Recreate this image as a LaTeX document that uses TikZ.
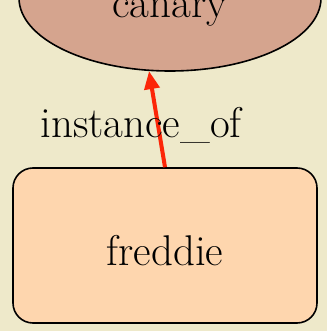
\documentclass[tikz,border=0pt]{standalone}
\usepackage{tikz}
\usetikzlibrary{arrows.meta, positioning, shapes.geometric}
\definecolor{Parch}{RGB}{238,233,202}
\definecolor{Rose}{RGB}{213,164,142}
\definecolor{Peach}{RGB}{254,214,174}
\definecolor{Signal}{RGB}{252,38,8}
\tikzset{
    big/.style={font=\fontsize{43}{50}\selectfont},
    cls/.style={ellipse, draw=black, line width=1.6pt, fill=Rose, big, minimum width=302pt, minimum height=146pt, inner sep=0pt, text height=40pt, text depth=0pt},
    inst/.style={rectangle, rounded corners=20pt, draw=black, line width=1.6pt, fill=Peach, big, minimum width=304pt, minimum height=155pt, text height=39pt, text depth=0pt},
    trans/.style={-{Triangle[length=18pt,width=15pt]}, line width=4pt, Signal},
    lbl/.style={big, text=black}
}

\begin{document}
\begin{tikzpicture}[x=1pt, y=-1pt]
        \useasboundingbox (0,0) rectangle (327,331);
        \clip (0,0) rectangle (327,331);
        \fill[Parch] (0,0) rectangle (327,331);
        \node[cls] (canary) at (170,-2) {canary};
        \node[inst] (freddie) at (165,245.5) {freddie};
        \draw[trans] (freddie.north) -- (canary.254)
            node[midway, lbl, xshift=-16pt, yshift=-6.5pt] (isa) {instance\_of};
    \end{tikzpicture}
\end{document}
